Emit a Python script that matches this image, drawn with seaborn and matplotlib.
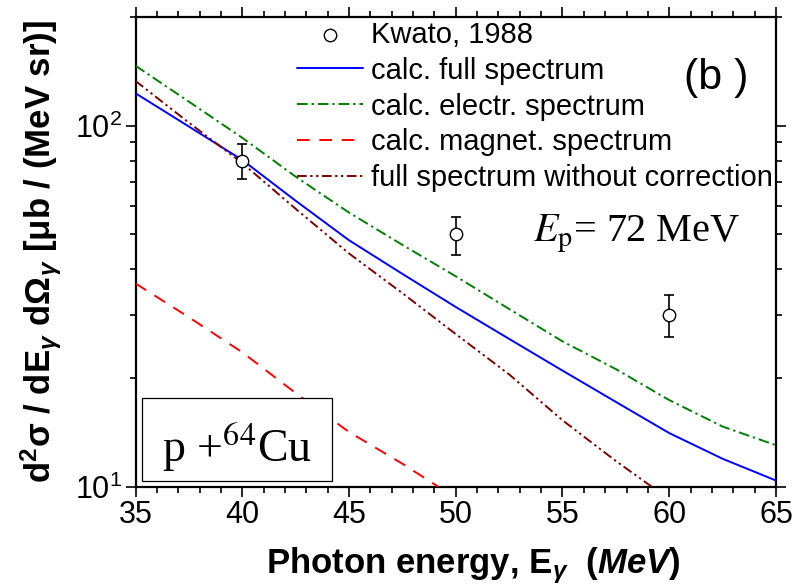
import matplotlib
matplotlib.use("Agg")
import matplotlib.pyplot as plt
import seaborn as sns
import pandas as pd
from matplotlib.patches import Rectangle
from matplotlib.ticker import LogLocator, MultipleLocator, NullFormatter

# Photon spectra for p + 64Cu at E_p = 72 MeV
energy = [35, 37.5, 40, 42.5, 45, 47.5, 50, 52.5, 55, 57.5, 60, 62.5, 65]
full_spectrum = [123, 99.5, 80.4, 62.0, 48.2, 38.9, 31.5, 25.7, 21.0, 17.2, 14.1, 11.97, 10.42]
electr_spectrum = [146.6, 116.6, 92.6, 72.3, 57.5, 46.8, 38.3, 31.1, 25.3, 21.2, 17.4, 14.7, 13.05]

magnet_energy = [35, 37.5, 40, 42.5, 45, 47.5, 49.2]
magnet_spectrum = [36.6, 29.5, 23.6, 18.2, 14.2, 11.6, 10.0]

nocorr_energy = [35, 37.5, 40, 42.5, 45, 47.5, 50, 52.5, 55, 57.5, 59.2]
nocorr_spectrum = [133, 102, 78.8, 58.9, 44.3, 34.4, 26.5, 20.5, 15.3, 11.8, 10.0]

exp_energy = [40, 50, 60]
exp_value = [80, 50, 30]
exp_error = [9, 6, 4]

sns.set_theme(style="ticks")
plt.rcParams["font.family"] = ["Liberation Sans", "DejaVu Sans"]
plt.rcParams["text.color"] = "black"
plt.rcParams["axes.labelcolor"] = "black"
plt.rcParams["xtick.color"] = "black"
plt.rcParams["ytick.color"] = "black"
plt.rcParams["axes.edgecolor"] = "black"
plt.rcParams["mathtext.fontset"] = "custom"
plt.rcParams["mathtext.rm"] = "Liberation Sans:bold"
plt.rcParams["mathtext.bf"] = "Liberation Sans:bold"
plt.rcParams["mathtext.it"] = "Liberation Sans:bold:italic"
plt.rcParams["mathtext.sf"] = "Liberation Sans:bold"

fig = plt.figure(figsize=(7.99, 5.88), dpi=100)
ax = fig.add_axes([0.1696, 0.1718, 0.8016, 0.7993])

exp_df = pd.DataFrame({"E": exp_energy, "y": exp_value})

ax.errorbar(exp_energy, exp_value, yerr=exp_error, fmt="none", ecolor="black",
            elinewidth=1.2, capsize=3.8, capthick=1.2, zorder=2)
sns.scatterplot(data=exp_df, x="E", y="y", ax=ax, marker="o", s=80,
                facecolor="white", edgecolor="black", linewidth=1.0,
                label="Kwato, 1988", zorder=5)

sns.lineplot(x=energy, y=full_spectrum, ax=ax, color="#0000ff", lw=1.4,
             label="calc. full spectrum", zorder=3)
sns.lineplot(x=energy, y=electr_spectrum, ax=ax, color="#008000", lw=1.4,
             linestyle=(0, (5.5, 2.0, 1.2, 2.0)),
             label="calc. electr. spectrum", zorder=3)
sns.lineplot(x=magnet_energy, y=magnet_spectrum, ax=ax, color="#ff0000", lw=1.4,
             linestyle=(0, (6.5, 5.0)),
             label="calc. magnet. spectrum", zorder=3)
sns.lineplot(x=nocorr_energy, y=nocorr_spectrum, ax=ax, color="#800000", lw=1.4,
             linestyle=(0, (5.0, 1.8, 1.2, 1.8, 1.2, 1.8)),
             label="full spectrum without correction", zorder=3)

ax.set_yscale("log")
ax.set_xlim(35, 65)
ax.set_ylim(10, 200)

ax.xaxis.set_major_locator(MultipleLocator(5))
ax.xaxis.set_minor_locator(MultipleLocator(1))
ax.yaxis.set_major_locator(LogLocator(base=10, numticks=5))
ax.yaxis.set_minor_locator(LogLocator(base=10, subs=range(2, 10), numticks=20))
ax.yaxis.set_minor_formatter(NullFormatter())

for side in ["left", "right", "top", "bottom"]:
    ax.spines[side].set_visible(True)
    ax.spines[side].set_linewidth(1.6)
    ax.spines[side].set_color("black")

ax.tick_params(which="both", direction="out", top=True, right=True,
               width=1.2, colors="black", labelcolor="black", labelsize=22, pad=2)
ax.tick_params(which="major", length=7.5)
ax.tick_params(which="minor", length=4.5)

ax.set_ylabel(r"d$^2$σ / dE$_\gamma$ dΩ$_\gamma$ [μb / (MeV sr)]",
              fontsize=25, fontweight="bold", labelpad=8, color="black")
ax.set_xlabel(r"Photon energy, E$_\gamma$  $\mathit{(MeV)}$",
              fontsize=25, fontweight="bold", va="baseline", color="black")
ax.xaxis.set_label_coords(0.528, -0.183)

leg = ax.legend(loc="upper left", bbox_to_anchor=(0.252, 0.992), frameon=False,
                fontsize=21, handlelength=2.25, handletextpad=0.3,
                labelspacing=0.27, borderpad=0.0, borderaxespad=0.0)
for t in leg.get_texts():
    t.set_color("black")

ax.text(0.857, 0.87, "(b )", transform=ax.transAxes, fontsize=31,
        family="Liberation Sans", ha="left", va="center")

ax.text(0.621, 0.522, r"$E_{\mathrm{p}}$= 72 MeV", transform=ax.transAxes,
        fontsize=29, family="Liberation Serif", math_fontfamily="stix",
        ha="left", va="baseline")

ax.add_patch(Rectangle((0.0101, 0.0128), 0.2967, 0.1765, transform=ax.transAxes,
                       facecolor="white", edgecolor="black", lw=0.9, zorder=6))
ax.text(0.158, 0.053, r"p +$^{64}$Cu", transform=ax.transAxes, fontsize=33,
        family="Liberation Serif", math_fontfamily="stix",
        ha="center", va="baseline", zorder=7)

fig.savefig("out.png", dpi=100)
